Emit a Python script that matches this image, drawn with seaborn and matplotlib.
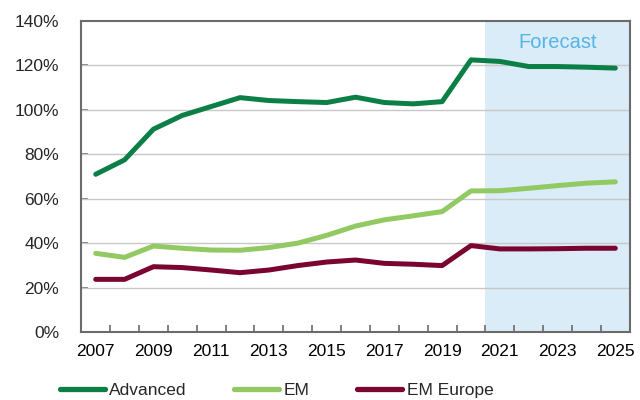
import matplotlib
matplotlib.use("Agg")
import matplotlib.pyplot as plt
import seaborn as sns
import pandas as pd
import numpy as np
from matplotlib.ticker import FixedLocator, PercentFormatter
from matplotlib.lines import Line2D

years = list(range(2007, 2026))
advanced = [71.0, 77.5, 91.3, 97.5, 101.5, 105.5, 104.2, 103.7, 103.3, 105.7,
            103.3, 102.7, 103.7, 122.5, 121.8, 119.5, 119.5, 119.2, 118.8]
em = [35.4, 33.6, 38.7, 37.7, 36.9, 36.8, 38.0, 40.0, 43.5, 47.7,
      50.5, 52.3, 54.2, 63.5, 63.6, 64.7, 65.9, 67.0, 67.6]
em_europe = [23.7, 23.7, 29.4, 29.0, 27.9, 26.7, 27.9, 29.9, 31.5, 32.4,
             30.9, 30.5, 29.9, 38.9, 37.4, 37.4, 37.5, 37.7, 37.7]
series_names = ["Advanced", "EM", "EM Europe"]
colors = ["#0b7f46", "#92c962", "#7b0531"]
forecast_start = 2021
xtick_labels = [str(y) for y in range(2007, 2026, 2)]

df = pd.DataFrame({
    "year": years * 3,
    "value": advanced + em + em_europe,
    "series": [series_names[0]] * len(years) + [series_names[1]] * len(years) + [series_names[2]] * len(years),
})

sns.set_theme(style="white")
plt.rcParams["font.family"] = ["Liberation Sans", "DejaVu Sans"]

fig = plt.figure(figsize=(6.4, 4.0), dpi=100)
ax = fig.add_axes([0.127, 0.17, 0.857, 0.7775])

ax.axvspan(forecast_start - 0.5, years[-1] + 0.5, color="#daecf8", zorder=0, lw=0)
for v in range(20, 140, 20):
    ax.axhline(v, color="#c8c8c8", lw=1.0, zorder=1)

sns.lineplot(data=df, x="year", y="value", hue="series", palette=colors,
             hue_order=series_names, linewidth=3.6, ax=ax, legend=False, zorder=3)
for line in ax.lines[-3:]:
    line.set_solid_capstyle("round")

ax.text((forecast_start - 0.5 + years[-1] + 0.5) / 2, 130.5, "Forecast", color="#55b4e6",
        fontsize=14.5, ha="center", va="center")

ax.set_xlim(years[0] - 0.5, years[-1] + 0.5)
ax.set_ylim(0, 140)
ax.set_xticks(list(range(2007, 2026, 2)))
ax.set_xticklabels(xtick_labels)
ax.xaxis.set_minor_locator(FixedLocator(np.arange(years[0] + 0.5, years[-1], 1.0)))
ax.set_yticks(range(0, 141, 20))
ax.yaxis.set_major_formatter(PercentFormatter(decimals=0))
ax.set_xlabel("")
ax.set_ylabel("")
ax.tick_params(axis="x", which="major", length=0, labelsize=12.5, pad=9, colors="black")
ax.tick_params(axis="x", which="minor", direction="in", length=5, width=1.2, color="#6b6b6b", bottom=True)
ax.tick_params(axis="y", which="major", direction="in", length=5, width=1.2, color="#6b6b6b",
               labelsize=12.5, pad=16, left=True)
for s in ax.spines.values():
    s.set_color("#6b6b6b")
    s.set_linewidth(1.5)
    s.set_visible(True)

handles = [Line2D([0], [0], color=c, lw=3.8, solid_capstyle="round") for c in colors]
fig.legend(handles, series_names, loc="center left", bbox_to_anchor=(0.093, 0.025), ncol=3,
           frameon=False, fontsize=12.5, handlelength=2.6, handletextpad=0.25,
           columnspacing=2.75, borderpad=0, borderaxespad=0)

fig.savefig("out.png", dpi=100)
